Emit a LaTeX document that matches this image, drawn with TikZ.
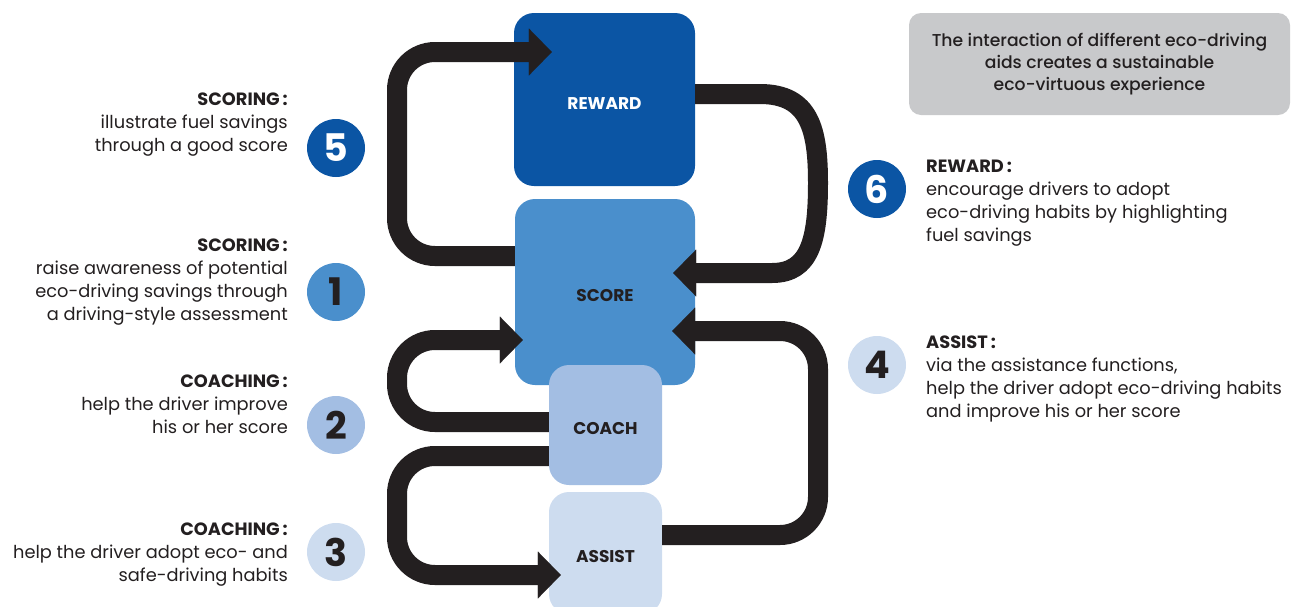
\documentclass[tikz,border=0pt]{standalone}
\usepackage{fontspec}
\setmainfont{Poppins}
\newfontfamily\panelfont{Poppins}[UprightFont={* Medium}]
\usetikzlibrary{arrows.meta}

\definecolor{ink}{RGB}{35,31,32}
\definecolor{rewardblue}{RGB}{11,85,164}
\definecolor{scoreblue}{RGB}{74,143,204}
\definecolor{coachblue}{RGB}{163,190,227}
\definecolor{assistblue}{RGB}{205,220,239}
\definecolor{panelgray}{RGB}{200,201,203}

\tikzset{
  block/.style={rectangle, rounded corners=20pt, inner sep=0pt, text=ink, text height=19pt, text depth=0pt,
                font=\fontsize{17}{20}\selectfont\bfseries},
  badge/.style={circle, inner sep=0pt, minimum size=58pt, text=ink,
                font=\fontsize{38}{38}\selectfont\bfseries},
  leftnote/.style={anchor=east, align=right, inner sep=0pt, text=ink,
                   font=\fontsize{17.8}{23}\selectfont},
  rightnote/.style={anchor=west, align=left, inner sep=0pt, text=ink,
                    font=\fontsize{17.8}{23}\selectfont},
  arrow/.style={draw=ink, line width=20pt, rounded corners=38pt,
                -{Triangle[length=23pt, width=47pt, line width=0.01pt]}},
}

\begin{document}
\begin{tikzpicture}[x=1pt, y=-1pt]
  \useasboundingbox (0,0) rectangle (1291,606);

  % Central blocks (coach sits on top of score)
  \node[block, fill=scoreblue, minimum width=180pt, minimum height=186pt] (score) at (605,292) {SCORE};
  \node[block, fill=rewardblue, text=white, minimum width=181pt, minimum height=173pt] (reward) at (604.5,99.5) {REWARD};
  \node[block, fill=coachblue, minimum width=113pt, minimum height=120pt] (coach) at (605.5,425) {COACH};
  \node[block, fill=assistblue, minimum width=113pt, minimum height=122pt] (assist) at (605.5,553) {ASSIST};

  % Summary panel
  \node[rectangle, rounded corners=12pt, fill=panelgray, minimum width=381pt, minimum height=102pt,
        text=ink, align=center, font=\fontsize{17.2}{22}\panelfont] (panel) at (1099.5,64)
        {The interaction of different eco-driving\\aids creates a sustainable\\eco-virtuous experience};

  % Loops between the blocks
  \draw[arrow] (score.west |- 0,256) -- (397,256) -- (397,52) -- ([xshift=38pt]reward.west |- 0,52);
  \draw[arrow, rounded corners=0pt] (reward.east |- 0,94) -- (760,94)
        .. controls (810,94) and (818,130) .. (818,183)
        .. controls (818,240) and (810,273) .. (772,273) -- ([xshift=-22pt]score.east |- 0,273);
  \draw[arrow] (assist.east |- 0,535) -- (818,535) -- (818,331) -- ([xshift=-23pt]score.east |- 0,331);
  \draw[arrow] (coach.west |- 0,422) -- (397,422) -- (397,340) -- ([xshift=8pt]score.west |- 0,340);
  \draw[arrow] (coach.west |- 0,456) -- (397,456) -- (397,575) -- ([xshift=12pt]assist.west |- 0,575);

  % Numbered steps
  \node[badge, fill=rewardblue, text=white] (step5) at (336,148) {5};
  \node[badge, fill=scoreblue]              (step1) at (336,292) {1};
  \node[badge, fill=coachblue]              (step2) at (336,425) {2};
  \node[badge, fill=assistblue]             (step3) at (336,552) {3};
  \node[badge, fill=rewardblue, text=white] (step6) at (877,189) {6};
  \node[badge, fill=assistblue]             (step4) at (877,365) {4};

  % Step descriptions
  \node[leftnote] (note5) at (288,125) {\textbf{SCORING\,:}\\illustrate fuel savings\\through a good score};
  \node[leftnote] (note1) at (288,282) {\textbf{SCORING\,:}\\raise awareness of potential\\eco-driving savings through\\a driving-style assessment};
  \node[leftnote] (note2) at (288,404) {\textbf{COACHING\,:}\\help the driver improve\\his or her score};
  \node[leftnote] (note3) at (288,555) {\textbf{COACHING\,:}\\help the driver adopt eco- and\\safe-driving habits};
  \node[rightnote] (note6) at (926,203) {\textbf{REWARD\,:}\\encourage drivers to adopt\\eco-driving habits by highlighting\\fuel savings};
  \node[rightnote] (note4) at (926,379) {\textbf{ASSIST\,:}\\via the assistance functions,\\help the driver adopt eco-driving habits\\and improve his or her score};
\end{tikzpicture}
\end{document}
